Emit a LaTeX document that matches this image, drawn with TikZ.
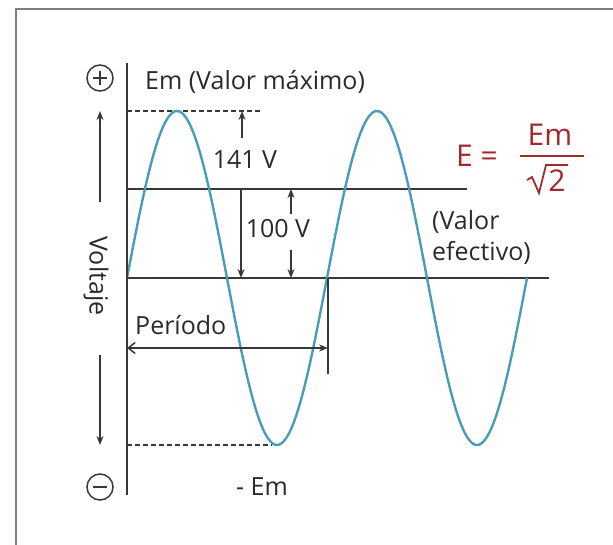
\documentclass[tikz,border=0pt]{standalone}
\usepackage{fontspec}
\setmainfont{Open Sans}
\usetikzlibrary{arrows.meta}
\definecolor{wavec}{HTML}{4B9CBA}
\definecolor{linec}{HTML}{383838}
\definecolor{textc}{HTML}{2A2A2A}
\definecolor{redc}{HTML}{A3282C}
\definecolor{framec}{HTML}{7F7F7F}
\begin{document}
\begin{tikzpicture}[x=1pt,y=-1pt,
  lbl/.style={font=\fontsize{25}{31}\selectfont, text=textc, inner sep=0pt},
  redlbl/.style={font=\fontsize{30}{36}\selectfont, text=redc, inner sep=0pt},
  axisline/.style={draw=linec, line width=2pt},
  refline/.style={draw=linec, line width=1.8pt},
  dashline/.style={draw=linec, line width=1.6pt, dash pattern=on 5pt off 3pt},
  dimarrow/.style={draw=linec, line width=1.6pt, -{Stealth[length=9pt,width=7pt]}},
  wave/.style={draw=wavec, line width=2.4pt},
  sign/.style={circle, draw=linec, line width=1.5pt, minimum size=26pt, inner sep=0pt},
  signmark/.style={draw=linec, line width=1.8pt}
]
\useasboundingbox (0,0) rectangle (613,545);
% frame
\coordinate (frBL) at (16,546);
\coordinate (frTL) at (16,9);
\coordinate (frTR) at (614,9);
\draw[framec, line width=2pt] (frBL) -- (frTL) -- (frTR);

% coordinates
\coordinate (axT) at (127,63);
\coordinate (axB) at (127,495);
\coordinate (topL) at (127,111);
\coordinate (topR) at (262,111);
\coordinate (effL) at (127,189);
\coordinate (effR) at (467,189);
\coordinate (zeroL) at (127,278);
\coordinate (zeroR) at (549,278);
\coordinate (botL) at (127,445);
\coordinate (botR) at (272,445);

% reference lines
\draw[refline] (effL) -- (effR);
\draw[refline] (zeroL) -- (zeroR);
\draw[dashline] (topL) -- (topR);
\draw[dashline] (botL) -- (botR);

% wave
\draw[wave] plot[domain=127:527, samples=201, smooth] (\x, {278-167*sin(1.8*(\x-127))});

% axis
\draw[axisline] (axT) -- (axB);

% dimension arrows
\coordinate (a141s) at (242,138); \coordinate (a141e) at (242,111);
\draw[dimarrow] (a141s) -- (a141e);
\coordinate (a100s) at (241,189); \coordinate (a100e) at (241,278);
\draw[dimarrow] (a100s) -- (a100e);
\coordinate (b1s) at (291,214); \coordinate (b1e) at (291,189);
\draw[dimarrow] (b1s) -- (b1e);
\coordinate (b2s) at (291,250); \coordinate (b2e) at (291,278);
\draw[dimarrow] (b2s) -- (b2e);

% left voltage arrows
\coordinate (vu1) at (100,202); \coordinate (vu2) at (100,111);
\draw[dimarrow] (vu1) -- (vu2);
\coordinate (vd1) at (100,355); \coordinate (vd2) at (100,445);
\draw[dimarrow] (vd1) -- (vd2);

% period
\coordinate (pL) at (127,348);
\coordinate (pR) at (328,348);
\coordinate (tickT) at (328,278);
\coordinate (tickB) at (328,374);
\draw[draw=linec, line width=1.5pt] (tickT) -- (tickB);
\draw[draw=linec, line width=1.5pt, {Straight Barb[length=7pt,width=11pt]}-{Stealth[length=9pt,width=7pt]}] (pL) -- (pR);

% signs
\node[sign] (plus) at (100,78) {};
\draw[signmark] ([xshift=-7pt]plus.center) -- ([xshift=7pt]plus.center);
\draw[signmark] ([yshift=-7pt]plus.center) -- ([yshift=7pt]plus.center);
\node[sign] (minus) at (100,487) {};
\draw[signmark] ([xshift=-7pt]minus.center) -- ([xshift=7pt]minus.center);

% labels
\node[lbl, anchor=west] (emax) at (145,82) {Em (Valor máximo)};
\node[lbl] (v141) at (245,160) {141 V};
\node[lbl] (v100) at (278,229) {100 V};
\node[lbl, anchor=west, align=left] (efec) at (432,237) {(Valor\\efectivo)};
\node[lbl, rotate=-90] (volt) at (96,276) {Voltaje};
\node[lbl, anchor=west] (per) at (135,325) {Período};
\node[lbl] (mem) at (262,487) {- Em};

% formula
\node[redlbl] (eq) at (477,156) {E =};
\node[redlbl, anchor=south] (num) at (550,146) {Em};
\node[redlbl] (den) at (557,181) {2};
\coordinate (r1) at (527,180);
\coordinate (r2) at (532,177);
\coordinate (r3) at (539,193);
\coordinate (r4) at (546,165);
\coordinate (r5) at (568,165);
\draw[draw=redc, line width=1.8pt, line join=miter] (r1) -- (r2) -- (r3) -- (r4) -- (r5);
\coordinate (barL) at (520,156);
\coordinate (barR) at (584,156);
\draw[draw=redc, line width=1.6pt] (barL) -- (barR);
\end{tikzpicture}
\end{document}
